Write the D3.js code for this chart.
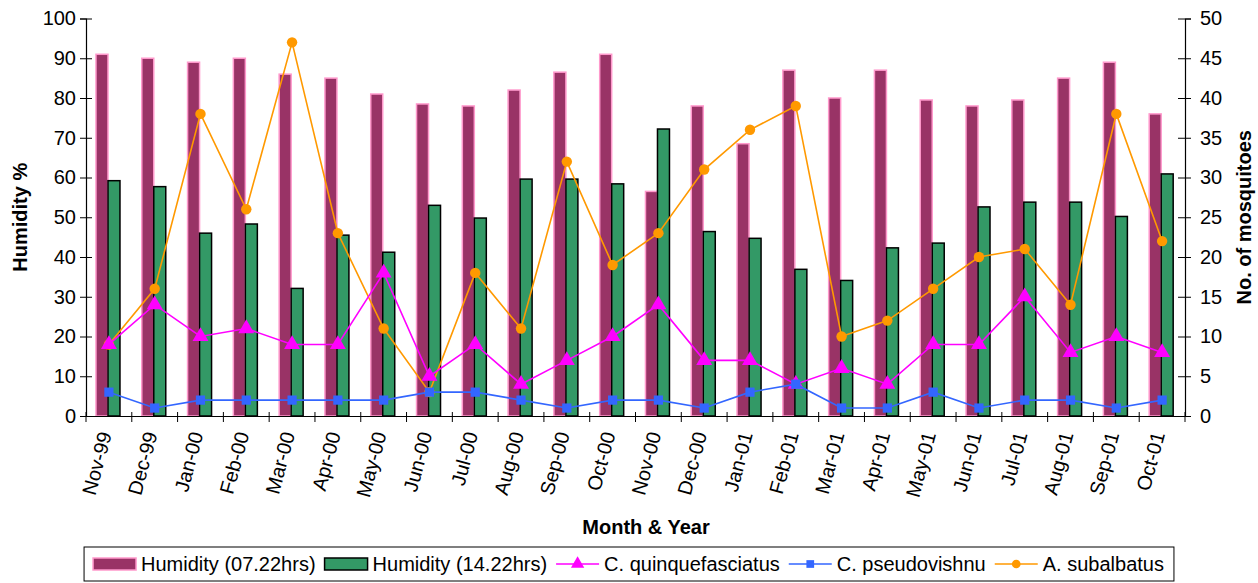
<!DOCTYPE html>
<html>
<head>
<meta charset="utf-8">
<script src="https://cdn.jsdelivr.net/npm/d3@7"></script>
<style>
  body { margin: 0; background: #fff; }
  text { font-family: "Liberation Sans", Arial, sans-serif; fill: #000; }
</style>
</head>
<body>
<div id="chart"></div>
<script>
// months along the x axis
var months = ["Nov-99", "Dec-99", "Jan-00", "Feb-00", "Mar-00", "Apr-00", "May-00", "Jun-00",
  "Jul-00", "Aug-00", "Sep-00", "Oct-00", "Nov-00", "Dec-00", "Jan-01", "Feb-01",
  "Mar-01", "Apr-01", "May-01", "Jun-01", "Jul-01", "Aug-01", "Sep-01", "Oct-01"];

// humidity (left axis, %)
var humidityMorning = [91, 90, 89, 90, 86, 85, 81, 78.5, 78, 82, 86.5, 91, 56.5, 78, 68.5, 87,
  80, 87, 79.5, 78, 79.5, 85, 89, 76];
var humidityAfternoon = [59.2, 57.7, 46, 48.3, 32.1, 45.5, 41.2, 53, 49.8, 59.6, 59.6, 58.4, 72.2, 46.4, 44.7, 36.9,
  34.1, 42.3, 43.5, 52.6, 53.8, 53.8, 50.2, 60.9];

// mosquito counts (right axis)
var quinquefasciatus = [9, 14, 10, 11, 9, 9, 18, 5, 9, 4, 7, 10, 14, 7, 7, 4, 6, 4, 9, 9, 15, 8, 10, 8];
var pseudovishnu = [3, 1, 2, 2, 2, 2, 2, 3, 3, 2, 1, 2, 2, 1, 3, 4, 1, 1, 3, 1, 2, 2, 1, 2];
var subalbatus = [9, 16, 38, 26, 47, 23, 11, 3, 18, 11, 32, 19, 23, 31, 36, 39, 10, 12, 16, 20, 21, 14, 38, 22];

var leftTicks = [0, 10, 20, 30, 40, 50, 60, 70, 80, 90, 100];
var rightTicks = [0, 5, 10, 15, 20, 25, 30, 35, 40, 45, 50];

var W = 1258, H = 583;
var margin = { top: 18.5, right: 73, bottom: 167, left: 86 };
var width = W - margin.left - margin.right,
  height = H - margin.top - margin.bottom;

var svg = d3.select("#chart")
  .append("svg")
  .attr("width", W)
  .attr("height", H);

var g = svg.append("g")
  .attr("transform", "translate(" + margin.left + "," + margin.top + ")");

var x = d3.scaleBand().domain(months).range([0, width]).padding(0);
var bw = x.bandwidth();
var x1 = d3.scaleBand().domain(["am", "pm"]).range([bw * 0.218, bw * 0.742]).padding(0);

var yL = d3.scaleLinear().domain([0, 100]).range([height, 0]);
var yR = d3.scaleLinear().domain([0, 50]).range([height, 0]);

// bars
var barData = months.map(function (m, i) {
  return { month: m, am: humidityMorning[i], pm: humidityAfternoon[i] };
});

var groups = g.selectAll(".grp")
  .data(barData)
  .enter()
  .append("g")
  .attr("transform", function (d) { return "translate(" + x(d.month) + ",0)"; });

groups.append("rect")
  .attr("x", x1("am"))
  .attr("width", x1.bandwidth())
  .attr("y", function (d) { return yL(d.am); })
  .attr("height", function (d) { return height - yL(d.am); })
  .attr("fill", "#993366")
  .attr("stroke", "#ff99cc")
  .attr("stroke-width", 1.5);

groups.append("rect")
  .attr("x", x1("pm"))
  .attr("width", x1.bandwidth())
  .attr("y", function (d) { return yL(d.pm); })
  .attr("height", function (d) { return height - yL(d.pm); })
  .attr("fill", "#339966")
  .attr("stroke", "#000")
  .attr("stroke-width", 1.5);

// axes
var axL = g.append("g")
  .call(d3.axisLeft(yL).tickValues(leftTicks).tickSize(6).tickPadding(4));
axL.selectAll(".tick line").attr("x1", 6);

var axR = g.append("g")
  .attr("transform", "translate(" + width + ",0)")
  .call(d3.axisRight(yR).tickValues(rightTicks).tickSize(6).tickPadding(9));
axR.selectAll(".tick line").attr("x1", -7);

var axB = g.append("g")
  .attr("transform", "translate(0," + height + ")")
  .call(d3.axisBottom(x).tickSize(0).tickFormat(""));

// tick marks at category boundaries
var bounds = months.map(function (m) { return x(m); }).concat([width]);
axB.selectAll(".bound")
  .data(bounds)
  .enter()
  .append("line")
  .attr("x1", function (d) { return d; })
  .attr("x2", function (d) { return d; })
  .attr("y1", -4)
  .attr("y2", 6)
  .attr("stroke", "#000");

[axL, axR, axB].forEach(function (a) {
  a.select(".domain").attr("stroke", "#000").attr("stroke-width", 1.2);
  a.selectAll(".tick line").attr("stroke", "#000");
  a.selectAll(".tick text").style("font-size", "20px").style("font-family", "'Liberation Sans', Arial, sans-serif");
});

// rotated month labels
g.selectAll(".mlabel")
  .data(months)
  .enter()
  .append("text")
  .attr("transform", function (d) {
    return "translate(" + (x(d) + bw / 2 + 3) + "," + (height + 18) + ") rotate(-75)";
  })
  .attr("text-anchor", "end")
  .style("font-size", "20px")
  .text(function (d) { return d; });

// lines
var series = [
  { name: "C. quinquefasciatus", values: quinquefasciatus, color: "#ff00ff", shape: d3.symbolTriangle, size: 110 },
  { name: "C. pseudovishnu", values: pseudovishnu, color: "#3366ff", shape: d3.symbolSquare, size: 85 },
  { name: "A. subalbatus", values: subalbatus, color: "#ff9900", shape: d3.symbolCircle, size: 85 }
];

var line = d3.line()
  .x(function (d, i) { return x(months[i]) + bw / 2; })
  .y(function (d) { return yR(d); });

// draw orange first so the others sit on top
[series[2], series[0], series[1]].forEach(function (s) {
  g.append("path")
    .datum(s.values)
    .attr("d", line)
    .attr("fill", "none")
    .attr("stroke", s.color)
    .attr("stroke-width", 1.6);
  g.selectAll(null)
    .data(s.values)
    .enter()
    .append("path")
    .attr("d", d3.symbol().type(s.shape).size(s.size))
    .attr("transform", function (d, i) {
      return "translate(" + (x(months[i]) + bw / 2) + "," + yR(d) + ")";
    })
    .attr("fill", s.color);
});

// axis titles
svg.append("text")
  .attr("transform", "translate(27," + (margin.top + height / 2) + ") rotate(-90)")
  .attr("text-anchor", "middle")
  .style("font-size", "20px")
  .style("font-weight", "bold")
  .text("Humidity %");

svg.append("text")
  .attr("transform", "translate(1251," + (margin.top + height / 2) + ") rotate(-90)")
  .attr("text-anchor", "middle")
  .style("font-size", "20px")
  .style("font-weight", "bold")
  .text("No. of mosquitoes");

svg.append("text")
  .attr("x", 646)
  .attr("y", 534)
  .attr("text-anchor", "middle")
  .style("font-size", "20px")
  .style("font-weight", "bold")
  .text("Month & Year");

// legend
var legendItems = [
  { name: "Humidity (07.22hrs)", type: "bar", fill: "#993366", stroke: "#ff99cc" },
  { name: "Humidity (14.22hrs)", type: "bar", fill: "#339966", stroke: "#000" },
  { name: series[0].name, type: "line", s: series[0] },
  { name: series[1].name, type: "line", s: series[1] },
  { name: series[2].name, type: "line", s: series[2] }
];

var leg = svg.append("g");
var box = leg.append("rect")
  .attr("fill", "#fff")
  .attr("stroke", "#000")
  .attr("stroke-width", 1);

var cx = 9, ly = 564;
legendItems.forEach(function (it) {
  var item = leg.append("g");
  if (it.type === "bar") {
    item.append("rect")
      .attr("x", cx).attr("y", ly - 6)
      .attr("width", 43).attr("height", 12)
      .attr("fill", it.fill).attr("stroke", it.stroke).attr("stroke-width", 1.5);
  } else {
    item.append("line")
      .attr("x1", cx).attr("x2", cx + 43)
      .attr("y1", ly).attr("y2", ly)
      .attr("stroke", it.s.color).attr("stroke-width", 1.6);
    item.append("path")
      .attr("d", d3.symbol().type(it.s.shape).size(it.s.size * 0.7))
      .attr("transform", "translate(" + (cx + 21.5) + "," + ly + ")")
      .attr("fill", it.s.color);
  }
  var t = item.append("text")
    .attr("x", cx + 48)
    .attr("y", ly + 7)
    .style("font-size", "20px")
    .text(it.name);
  cx += 48 + t.node().getComputedTextLength() + 9;
});
var total = cx + 1;
var left = 629 - total / 2;
leg.attr("transform", "translate(" + left + ",0)");
box.attr("x", 0).attr("y", 547).attr("width", total).attr("height", 34);
</script>
</body>
</html>
